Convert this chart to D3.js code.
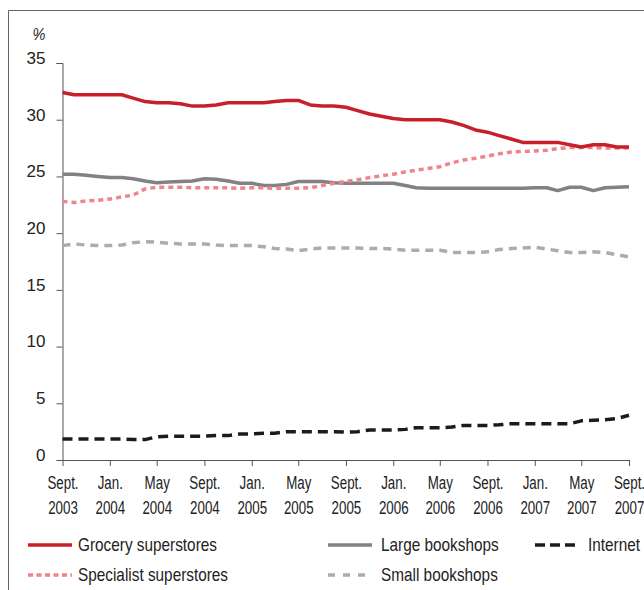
<!DOCTYPE html>
<html><head><meta charset="utf-8">
<script src="https://cdn.jsdelivr.net/npm/d3@7"></script>
<style>body{margin:0;background:#fff} svg{display:block}</style>
</head><body><svg id="c" width="644" height="590"></svg>
<script>
const months = d3.range(49).map(i => new Date(2003, 8 + i, 1));
const grocery = [32.4,32.2,32.2,32.2,32.2,32.2,31.9,31.6,31.5,31.5,31.4,31.2,31.2,31.3,31.5,31.5,31.5,31.5,31.6,31.7,31.7,31.3,31.2,31.2,31.1,30.8,30.5,30.3,30.1,30.0,30.0,30.0,30.0,29.8,29.5,29.1,28.9,28.6,28.3,28.0,28.0,28.0,28.0,27.8,27.6,27.8,27.8,27.6,27.6];
const large = [25.2,25.2,25.1,25.0,24.9,24.9,24.8,24.6,24.45,24.5,24.55,24.6,24.8,24.75,24.6,24.4,24.4,24.2,24.2,24.3,24.55,24.55,24.55,24.45,24.4,24.4,24.4,24.4,24.4,24.2,24.0,23.95,23.95,23.95,23.95,23.95,23.95,23.95,23.95,23.95,24.0,24.0,23.75,24.05,24.05,23.75,24.0,24.05,24.1];
const specialist = [22.8,22.7,22.85,22.9,23.0,23.2,23.35,23.9,24.05,24.05,24.05,24.0,24.0,24.0,24.0,23.95,24.0,24.0,23.95,23.95,23.95,24.0,24.2,24.4,24.55,24.7,24.9,25.05,25.2,25.4,25.55,25.7,25.85,26.2,26.45,26.6,26.8,27.0,27.15,27.2,27.25,27.3,27.45,27.55,27.55,27.55,27.5,27.5,27.5];
const small = [18.9,19.05,18.95,18.9,18.9,18.95,19.15,19.25,19.2,19.1,19.05,19.05,19.05,18.95,18.9,18.9,18.9,18.8,18.65,18.6,18.45,18.6,18.7,18.7,18.7,18.7,18.65,18.65,18.6,18.5,18.5,18.5,18.5,18.3,18.3,18.3,18.35,18.55,18.65,18.7,18.75,18.6,18.45,18.3,18.3,18.35,18.3,18.1,17.9];
const internet = [1.85,1.85,1.85,1.85,1.85,1.85,1.8,1.8,2.05,2.1,2.1,2.1,2.1,2.15,2.15,2.3,2.3,2.35,2.35,2.5,2.5,2.5,2.5,2.5,2.45,2.5,2.65,2.65,2.65,2.7,2.85,2.85,2.85,2.9,3.05,3.05,3.05,3.1,3.2,3.2,3.2,3.2,3.2,3.2,3.45,3.5,3.55,3.65,3.95];
const yTicks = [0,5,10,15,20,25,30,35];
const xTickLabels = [["Sept.","2003"],["Jan.","2004"],["May","2004"],["Sept.","2004"],["Jan.","2005"],["May","2005"],["Sept.","2005"],["Jan.","2006"],["May","2006"],["Sept.","2006"],["Jan.","2007"],["May","2007"],["Sept.","2007"]];
const seriesNames = ["Grocery superstores","Large bookshops","Internet","Specialist superstores","Small bookshops"];

const font = "'Liberation Sans',Arial,sans-serif";
const txt = "#222";
const svg = d3.select("#c");
const x = d3.scaleTime().domain([months[0], months[48]]).range([62.5, 629]);
const y = d3.scaleLinear().domain([0, 35]).range([460, 63]);

function widthOf(s, size){
  const t = svg.append("text").attr("font-family",font).attr("font-size",size).text(s);
  const w = t.node().getComputedTextLength(); t.remove(); return w;
}
const tickScale = 29.7 / widthOf("2003", 18.5);
const legScale = 139 / widthOf("Grocery superstores", 18);

// frame
svg.append("path").attr("d","M8.5,590V10.5H644").attr("fill","none").attr("stroke","#666").attr("stroke-width",1);

// % label
svg.append("text").attr("transform","translate(39,40) scale("+legScale+",1)").attr("text-anchor","middle")
  .attr("font-family",font).attr("font-style","italic").attr("font-size",17).attr("fill",txt).text("%");

// y axis
const ya = svg.append("g").attr("transform","translate(62.5,0)")
  .call(d3.axisLeft(y).tickValues(yTicks).tickSize(6).tickPadding(11).tickFormat(d3.format("d")));
ya.select(".domain").attr("stroke","#555");
ya.selectAll(".tick line").attr("stroke","#555");
ya.selectAll(".tick text").attr("font-family",font).attr("font-size",17).attr("fill",txt).attr("dy","0.02em");

// x axis
const tickDates = months.filter((d,i) => i % 4 === 0);
const xa = svg.append("g").attr("transform","translate(0,460)")
  .call(d3.axisBottom(x).tickValues(tickDates).tickSize(6).tickSizeOuter(0).tickFormat(""));
xa.select(".domain").attr("stroke","#555");
xa.selectAll(".tick line").attr("stroke","#555");
xa.selectAll(".tick").each(function(d,i){
  const g = d3.select(this);
  xTickLabels[i].forEach((s,j)=>{
    g.append("text").attr("transform","translate(0,"+(28.5+j*25)+") scale("+tickScale+",1)")
      .attr("fill",txt).attr("font-family",font).attr("font-size",18.5).attr("text-anchor","middle").text(s);
  });
});

// series
const styles = [
  {data: grocery, color:"#c8202b", dash:null},
  {data: large, color:"#818186", dash:null},
  {data: internet, color:"#1b1b1b", dash:"10,6"},
  {data: specialist, color:"#f0838d", dash:"5,4"},
  {data: small, color:"#abacb0", dash:"8,6"}
];
const line = d3.line().x((d,i)=>x(months[i])).y(d=>y(d)).curve(d3.curveLinear);
const order = [4,1,3,2,0];
order.forEach(k=>{
  const s = styles[k];
  svg.append("path").datum(s.data).attr("d",line).attr("fill","none")
    .attr("stroke",s.color).attr("stroke-width",3.5).attr("stroke-linejoin","round")
    .attr("stroke-dasharray",s.dash);
});

// legend
const legPos = [[28,545],[328,545],[535,545],[28,575],[328,575]];
const legDash = [null,null,"10,5","5,3.5","7,8"];
seriesNames.forEach((n,k)=>{
  const s = styles[k];
  const [lx,ly] = legPos[k];
  svg.append("line").attr("x1",lx).attr("x2",lx+44).attr("y1",ly).attr("y2",ly)
    .attr("stroke",s.color).attr("stroke-width",3.5).attr("stroke-dasharray",legDash[k]);
  svg.append("text").attr("transform","translate("+(lx+(k===0||k===3?50:53))+","+(ly+6)+") scale("+legScale+",1)")
    .attr("font-family",font).attr("font-size",18).attr("fill",txt).text(n);
});
</script></body></html>
